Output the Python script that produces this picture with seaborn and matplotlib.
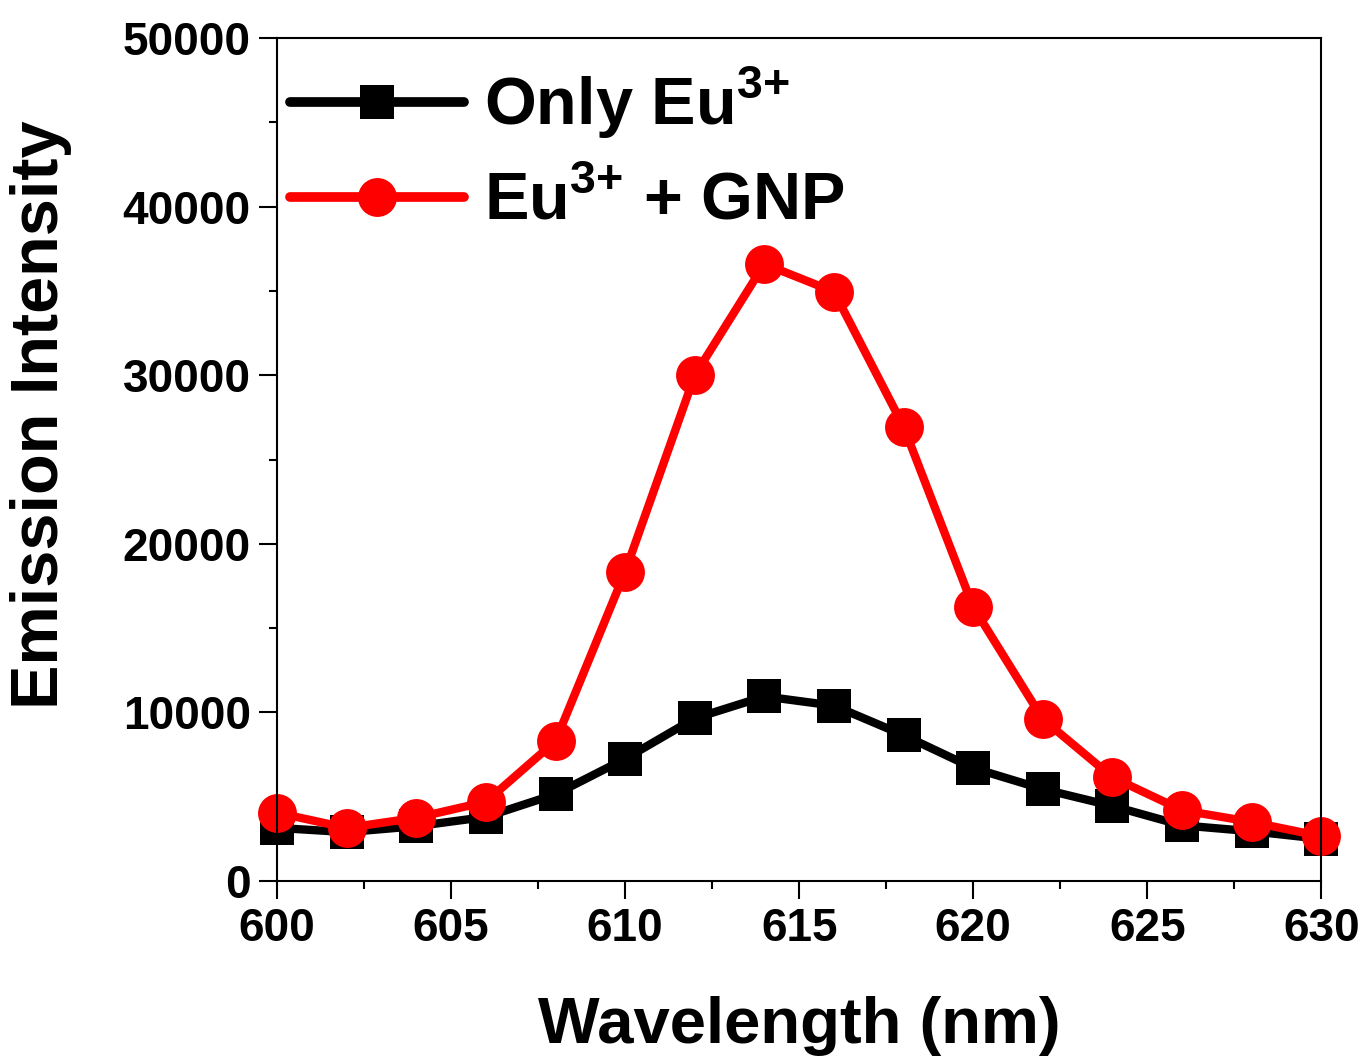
import numpy as np
import pandas as pd
import seaborn as sns
import matplotlib.pyplot as plt
from matplotlib.ticker import MultipleLocator

# emission spectra
wavelength = [600, 602, 604, 606, 608, 610, 612, 614, 616, 618, 620, 622, 624, 626, 628, 630]
only_eu = [3150, 2900, 3250, 3800, 5150, 7250, 9650, 10950, 10400, 8650, 6700, 5450, 4450, 3300, 2950, 2500]
eu_gnp = [4050, 3150, 3750, 4700, 8300, 18350, 30000, 36600, 34950, 26950, 16250, 9600, 6150, 4200, 3500, 2650]

sns.set_theme(style='ticks')
plt.rcParams['font.family'] = ['Liberation Sans', 'DejaVu Sans']
plt.rcParams['font.weight'] = 'bold'
plt.rcParams['axes.labelweight'] = 'bold'
plt.rcParams['text.color'] = 'black'
plt.rcParams['axes.labelcolor'] = 'black'
plt.rcParams['mathtext.fontset'] = 'custom'
plt.rcParams['mathtext.rm'] = 'Liberation Sans'
plt.rcParams['mathtext.bf'] = 'Liberation Sans:bold'

fig = plt.figure(figsize=(13.65, 10.57), dpi=100)
ax = fig.add_axes([0.203, 0.1665, 0.765, 0.7975])

sns.lineplot(x=wavelength, y=only_eu, ax=ax, color='black', lw=6, marker='s',
             markersize=24, markeredgewidth=0, label=r'Only Eu$^{\mathrm{3{+}}}$',
             solid_capstyle='round', clip_on=False)
sns.lineplot(x=wavelength, y=eu_gnp, ax=ax, color='#ff0000', lw=6, marker='o',
             markersize=28, markeredgewidth=0, label=r'Eu$^{\mathrm{3{+}}}$ + GNP',
             solid_capstyle='round', clip_on=False)

ax.set_xlim(600, 630)
ax.set_ylim(0, 50000)
ax.xaxis.set_major_locator(MultipleLocator(5))
ax.xaxis.set_minor_locator(MultipleLocator(2.5))
ax.yaxis.set_major_locator(MultipleLocator(10000))
ax.yaxis.set_minor_locator(MultipleLocator(5000))

for s in ax.spines.values():
    s.set_linewidth(1.5)
    s.set_color('black')
ax.tick_params(which='major', direction='out', length=13, width=1.5, labelsize=33,
               color='black', labelcolor='black', pad=6)
ax.tick_params(which='minor', direction='out', length=6, width=1.5, color='black')
for lab in ax.get_xticklabels() + ax.get_yticklabels():
    lab.set_fontweight('bold')

ax.set_xlabel('Wavelength (nm)', fontsize=47, fontweight='bold', labelpad=32)
ax.set_ylabel('Emission Intensity', fontsize=48, fontweight='bold')
ax.yaxis.set_label_coords(-0.196, 0.553)

leg = ax.legend(loc='upper left', bbox_to_anchor=(0, 1 - 13 / 843), frameon=False,
                handlelength=2.6, handletextpad=0.3, labelspacing=0.45,
                borderaxespad=0, borderpad=0.2,
                prop={'weight': 'bold', 'size': 48})
for h in leg.get_lines():
    h.set_linewidth(7)

fig.savefig('out.png', dpi=100)
